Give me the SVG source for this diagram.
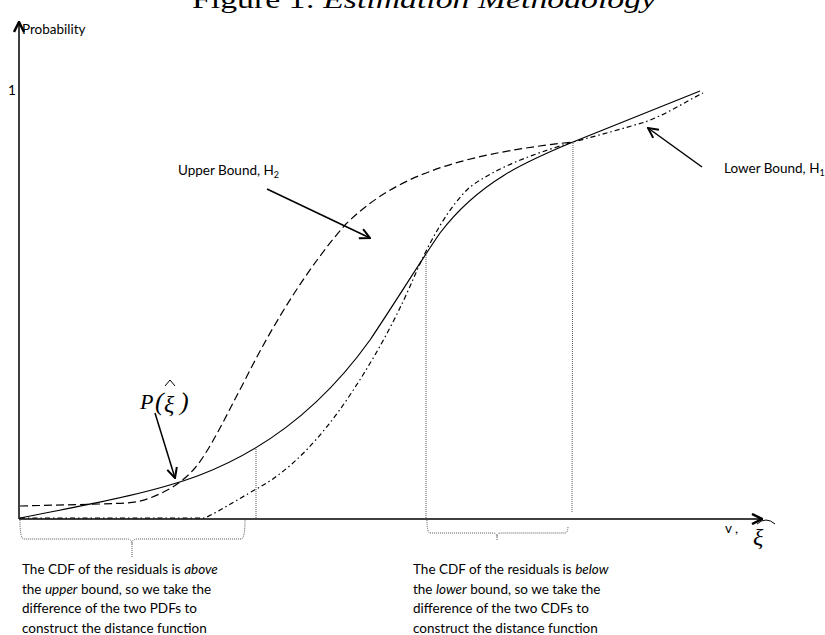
<svg xmlns="http://www.w3.org/2000/svg" width="825" height="635" viewBox="0 0 825 635">
<style>
.lbl{font-family:Lato,"Liberation Sans",sans-serif;font-size:13.5px;fill:#000}
.math{font-family:"Liberation Serif","DejaVu Serif",serif;font-style:italic;fill:#000}
.curve{fill:none;stroke:#000;stroke-width:1.2}
.dot{fill:none;stroke:#555;stroke-width:1;stroke-dasharray:1 1}
.arr{fill:none;stroke:#000;stroke-width:1.5}
</style>
<defs>
<marker id="open" viewBox="0 0 12 12" refX="11" refY="6" markerWidth="12" markerHeight="12" markerUnits="userSpaceOnUse" orient="auto">
<path d="M1,1 L11,6 L1,11" fill="none" stroke="#000" stroke-width="2"/>
</marker>
<marker id="axisHead" viewBox="0 0 12 12" refX="11" refY="6" markerWidth="12" markerHeight="12" markerUnits="userSpaceOnUse" orient="auto">
<path d="M1,1 L11,6 L1,11" fill="none" stroke="#000" stroke-width="2.5"/>
</marker>
</defs>
<rect width="825" height="635" fill="#fff"/>
<g id="title">
<text x="192" y="8" font-family="'Liberation Serif',serif" font-size="26" textLength="464" lengthAdjust="spacingAndGlyphs">Figure 1: <tspan font-style="italic">Estimation Methodology</tspan></text>
</g>
<g id="axes">
<line x1="19" y1="519" x2="19" y2="22" class="arr" marker-end="url(#axisHead)"/>
<line x1="19" y1="519" x2="762" y2="519" class="arr" marker-end="url(#axisHead)"/>
<text x="22" y="34" class="lbl">Probability</text>
<text x="8" y="95" class="lbl">1</text>
<text x="725" y="533" class="lbl" font-size="12">v ,</text>
<text x="753" y="545" class="math" font-size="24">ξ</text>
<path d="M757,524 Q766,516 775,524" fill="none" stroke="#000" stroke-width="1"/>
</g>
<g id="curves">
<path id="solid" class="curve" d="M20,518 C80,506 150,494 200,475 C260,452 320,410 370,340 C400,295 420,262 440,233 C480,180 530,160 573,142 L700,91"/>
<path id="upper" class="curve" stroke-dasharray="8 4" d="M20,506 L100,504 C120,503 135,504 150,498 C165,492 180,485 195,468 C210,450 225,418 245,380 C275,320 310,265 345,225 C390,180 450,155 573,142"/>
<path id="lower" class="curve" stroke-dasharray="5 3 1.5 3" d="M20,518 L205,518 C225,508 245,495 260,487 C290,470 320,440 350,395 C380,350 400,310 415,275 C430,240 450,205 470,187 C500,165 540,152 573,142 C600,135 625,128 645,122 C665,115 685,102 703,93"/>
</g>
<g id="verticals">
<line x1="256" y1="449" x2="256" y2="518" class="dot"/>
<line x1="426" y1="251" x2="426" y2="518" class="dot"/>
<line x1="573" y1="143" x2="572" y2="513" class="dot"/>
</g>
<g id="braces">
<path class="dot" d="M20,520 Q20,539 24,539 H127 Q132,539 132,544 Q132,539 137,539 H241 Q245,539 245,520"/>
<line x1="132" y1="544" x2="132" y2="557" class="dot"/>
<path class="dot" d="M427,520 Q427,533 430,533 H493 Q497,533 497,537 Q497,533 501,533 H565 Q568,533 568,526"/>
<line x1="497" y1="537" x2="497" y2="540" class="dot"/>
</g>
<g id="connectors">
<line x1="267" y1="189" x2="370" y2="238" class="arr" marker-end="url(#open)"/>
<line x1="702" y1="167" x2="648" y2="128" class="arr" marker-end="url(#open)"/>
<line x1="155" y1="413" x2="175" y2="478" class="arr" marker-end="url(#open)"/>
</g>
<g id="upper-label">
<text x="178" y="175" class="lbl">Upper Bound, H<tspan font-size="9" dy="3">2</tspan></text>
</g>
<g id="lower-label">
<text x="724" y="173" class="lbl" font-size="13">Lower Bound, H<tspan font-size="9" dy="3">1</tspan></text>
</g>
<g id="p-label">
<text x="140" y="409" class="math" font-size="22">P</text>
<text x="155" y="410" class="math" font-size="26" font-style="normal">(</text>
<text x="164" y="412" class="math" font-size="24">ξ</text>
<path d="M165,386 L170,380 L175,386" fill="none" stroke="#000" stroke-width="1"/>
<text x="180" y="410" class="math" font-size="26" font-style="normal">)</text>
</g>
<g id="left-note">
<text class="lbl" x="22" y="574">The CDF of the residuals is <tspan font-style="italic">above</tspan></text>
<text class="lbl" x="22" y="594">the <tspan font-style="italic">upper</tspan> bound, so we take the</text>
<text class="lbl" x="22" y="613">difference of the two PDFs to</text>
<text class="lbl" x="22" y="633">construct the distance function</text>
</g>
<g id="right-note">
<text class="lbl" x="413" y="574">The CDF of the residuals is <tspan font-style="italic">below</tspan></text>
<text class="lbl" x="413" y="594">the <tspan font-style="italic">lower</tspan> bound, so we take the</text>
<text class="lbl" x="413" y="613">difference of the two CDFs to</text>
<text class="lbl" x="413" y="633">construct the distance function</text>
</g>
</svg>
